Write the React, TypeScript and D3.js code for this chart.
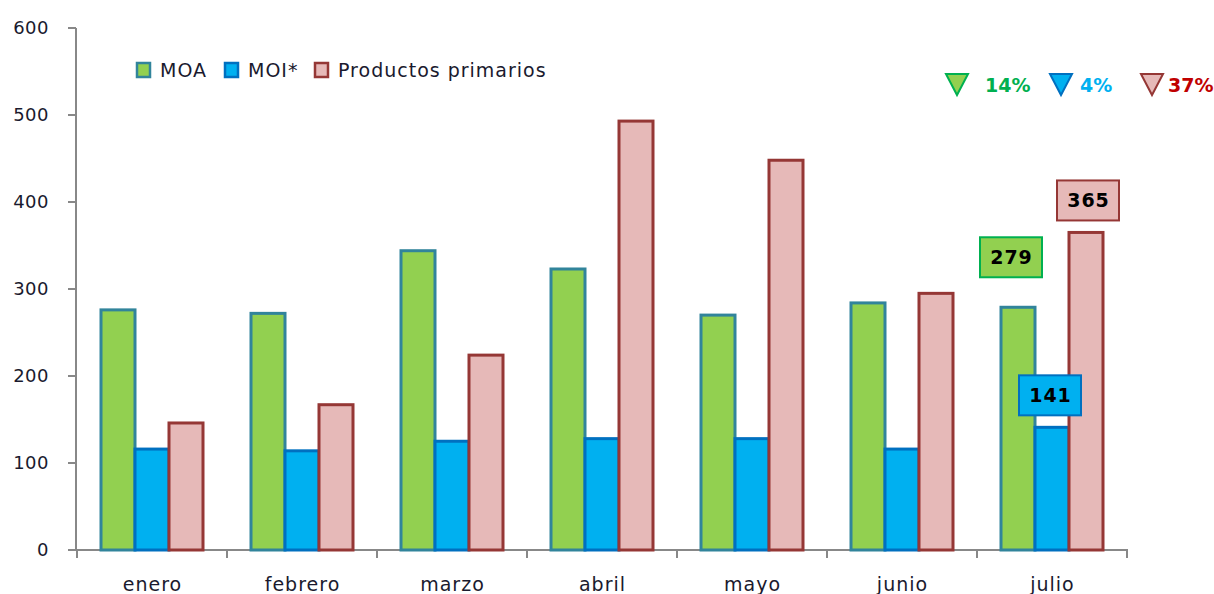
import React from 'react';
import * as d3 from 'd3';

const MONTHS = ['enero', 'febrero', 'marzo', 'abril', 'mayo', 'junio', 'julio'];
const SERIES = ['MOA', 'MOI*', 'Productos primarios'];
const MOA = [276, 272, 344, 323, 270, 284, 279];
const MOI = [116, 114, 125, 128, 128, 116, 141];
const PRIMARIOS = [146, 167, 224, 493, 448, 295, 365];
const Y_TICKS = [0, 100, 200, 300, 400, 500, 600];
const CHANGES = ['14%', '4%', '37%'];

const FILLS = ['#92d050', '#00b0f0', '#e6b9b8'];
const STROKES = ['#31849b', '#0070c0', '#953735'];
const CHANGE_COLORS = ['#00b050', '#00b0f0', '#c00000'];
const TRI_STROKES = ['#00b050', '#0070c0', '#953735'];
const LABEL_STROKES = ['#00b050', '#0070c0', '#953735'];

const FONT = '"DejaVu Sans", Verdana, sans-serif';
const W = 1214;
const H = 594;

export default function App() {
  const values = [MOA, MOI, PRIMARIOS];
  const x = d3.scaleBand<string>().domain(MONTHS).range([77, 1127]).paddingInner(0.32).paddingOuter(0.16);
  const x1 = d3.scaleBand<number>().domain([0, 1, 2]).range([0, x.bandwidth()]);
  const y = d3.scaleLinear().domain([0, 600]).range([550, 28]);
  const step = x.step();
  const last = MONTHS.length - 1;

  // label boxes on the last month, offset from bar tops
  const labelOffsets = [
    { dx: -7, dy: -50 },
    { dx: -2, dy: -32 },
    { dx: 2, dy: -32 },
  ];

  return (
    <svg width={W} height={H} style={{ position: 'absolute', left: 0, top: 0, background: '#fff' }}>
      {/* y axis */}
      <line x1={76} x2={76} y1={y(600)} y2={y(0)} stroke="#888" strokeWidth={2} />
      {Y_TICKS.map((t) => (
        <g key={t}>
          <line x1={68} x2={76} y1={y(t)} y2={y(t)} stroke="#888" strokeWidth={2} />
          <text x={49} y={y(t)} dy="0.36em" textAnchor="end" fontFamily={FONT} fontSize={18} letterSpacing={0.5} fill="#1a1a2e">
            {t}
          </text>
        </g>
      ))}
      {/* x axis */}
      <line x1={68} x2={1128} y1={y(0)} y2={y(0)} stroke="#888" strokeWidth={2} />
      {d3.range(MONTHS.length + 1).map((i) => (
        <line key={i} x1={77 + i * step} x2={77 + i * step} y1={y(0)} y2={y(0) + 8} stroke="#888" strokeWidth={2} />
      ))}
      {MONTHS.map((m) => (
        <text key={m} x={(x(m) as number) + x.bandwidth() / 2 + 0.5} y={591} textAnchor="middle" fontFamily={FONT} fontSize={19} letterSpacing={1} fill="#1a1a2e">
          {m}
        </text>
      ))}

      {/* bars */}
      {values.map((vals, s) =>
        vals.map((v, i) => (
          <rect
            key={`${s}-${i}`}
            x={(x(MONTHS[i]) as number) + (x1(s) as number)}
            y={y(v)}
            width={x1.bandwidth()}
            height={y(0) - y(v)}
            fill={FILLS[s]}
            stroke={STROKES[s]}
            strokeWidth={3}
          />
        ))
      )}

      {/* value labels for julio */}
      {values.map((vals, s) => {
        const v = vals[last];
        const cx = (x(MONTHS[last]) as number) + (x1(s) as number) + x1.bandwidth() / 2 + labelOffsets[s].dx;
        const by = y(v) + labelOffsets[s].dy;
        return (
          <g key={`lab-${s}`}>
            <rect x={cx - 31} y={by - 20} width={62} height={40} fill={FILLS[s]} stroke={LABEL_STROKES[s]} strokeWidth={2} />
            <text x={cx + 0.5} y={by} dy="0.36em" textAnchor="middle" fontFamily={FONT} fontSize={19} fontWeight="bold" letterSpacing={1} fill="#000">
              {v}
            </text>
          </g>
        );
      })}

      {/* legend */}
      {SERIES.map((name, s) => {
        const lx = [137, 225, 315][s];
        return (
          <g key={name}>
            <rect x={lx} y={63} width={13} height={14} fill={FILLS[s]} stroke={STROKES[s]} strokeWidth={2.5} />
            <text x={lx + 23} y={77} fontFamily={FONT} fontSize={19} letterSpacing={1} fill="#1a1a2e">
              {name}
            </text>
          </g>
        );
      })}

      {/* variation markers */}
      {CHANGES.map((c, s) => {
        const tx = [946, 1050, 1141][s];
        const lx = [985, 1080, 1168][s];
        return (
          <g key={c}>
            <path
              d={`M${tx},${74} L${tx + 22},${74} L${tx + 11},${95} Z`}
              fill={FILLS[s]}
              stroke={TRI_STROKES[s]}
              strokeWidth={2}
            />
            <text x={lx} y={92} fontFamily={FONT} fontSize={19} fontWeight="bold" fill={CHANGE_COLORS[s]}>
              {c}
            </text>
          </g>
        );
      })}
    </svg>
  );
}
